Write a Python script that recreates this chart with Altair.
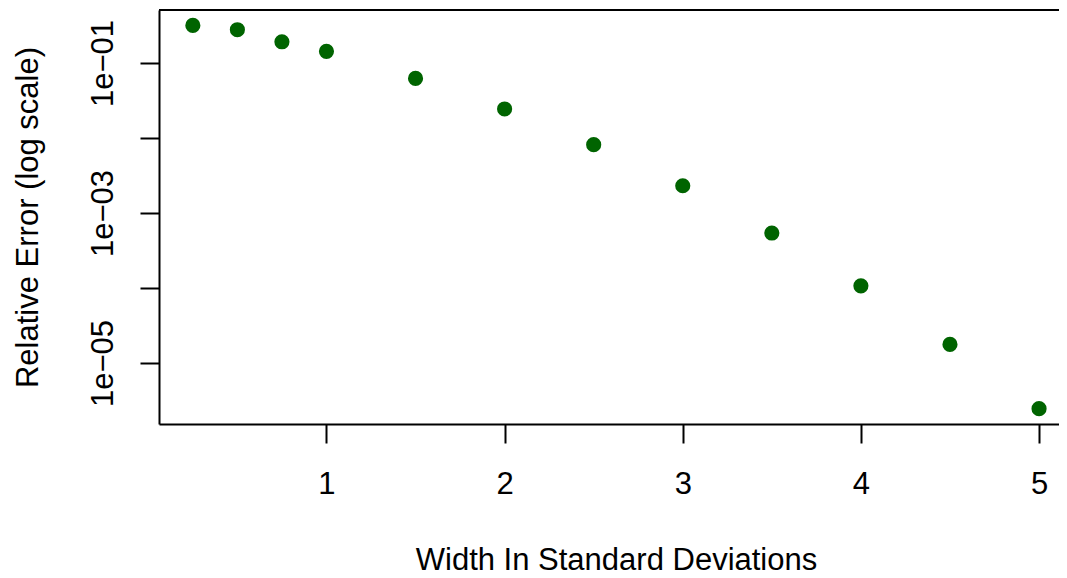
import altair as alt
import pandas as pd
import math

# data
width_sd = [0.25, 0.5, 0.75, 1.0, 1.5, 2.0, 2.5, 3.0, 3.5, 4.0, 4.5, 5.0]
rel_error = [0.317, 0.278, 0.192, 0.143, 0.0624, 0.0244, 0.00815, 0.00231,
             0.000541, 0.000107, 1.77e-5, 2.46e-6]

x_ticks = [1, 2, 3, 4, 5]
y_tick_values = [1e-1, 1e-2, 1e-3, 1e-4, 1e-5]
y_tick_labels = ["1e\u221201", "", "1e\u221203", "", "1e\u221205"]

df = pd.DataFrame({"w": width_sd, "err": rel_error})

# build label expression from the tick lists
expr = "''"
for v, lab in reversed(list(zip(y_tick_values, y_tick_labels))):
    expr = f"(abs(log(datum.value)/LN10 - ({math.log10(v):.3f})) < 0.01 ? '{lab}' : {expr})"

W, H = 900, 414
FONT = "Liberation Sans"
FS = 31

points = alt.Chart(df).mark_circle(size=230, color="#006400", opacity=1).encode(
    x=alt.X("w:Q",
            scale=alt.Scale(domain=[0.06, 5.112], nice=False, zero=False),
            axis=alt.Axis(values=x_ticks, format="d", labelAngle=0, labelAlign="center",
                          labelBaseline="alphabetic", labelPadding=50,
                          title="Width In Standard Deviations",
                          titleX=457, titleY=145, titleAlign="center",
                          titleBaseline="alphabetic", titleAngle=0)),
    y=alt.Y("err:Q",
            scale=alt.Scale(type="log", domain=[1.538e-6, 0.5093], nice=False),
            axis=alt.Axis(values=y_tick_values, labelExpr=expr, labelAngle=270,
                          labelAlign="center", labelBaseline="alphabetic",
                          labelPadding=28, labelOverlap=False, labelFlush=False,
                          title="Relative Error (log scale)",
                          titleAngle=270, titleX=-122, titleY=207,
                          titleAlign="center", titleBaseline="alphabetic")),
)

top = alt.Chart(pd.DataFrame({"a": [0]})).mark_rule(color="black", strokeWidth=2).encode(
    x=alt.value(0), x2=alt.value(W), y=alt.value(0)
)

chart = alt.layer(points, top).properties(
    width=W, height=H,
    autosize=alt.AutoSizeParams(type="none"),
    padding={"left": 151, "top": 2, "right": 0, "bottom": 146},
).configure_view(stroke=None).configure_axis(
    grid=False, domainColor="black", domainWidth=2, tickColor="black", tickWidth=2,
    tickSize=19, labelFont=FONT, labelFontSize=FS, labelColor="black",
    titleFont=FONT, titleFontSize=FS, titleColor="black", titleFontWeight="normal",
)

chart.save("out.html", embed_options={"renderer": "svg", "actions": False})
